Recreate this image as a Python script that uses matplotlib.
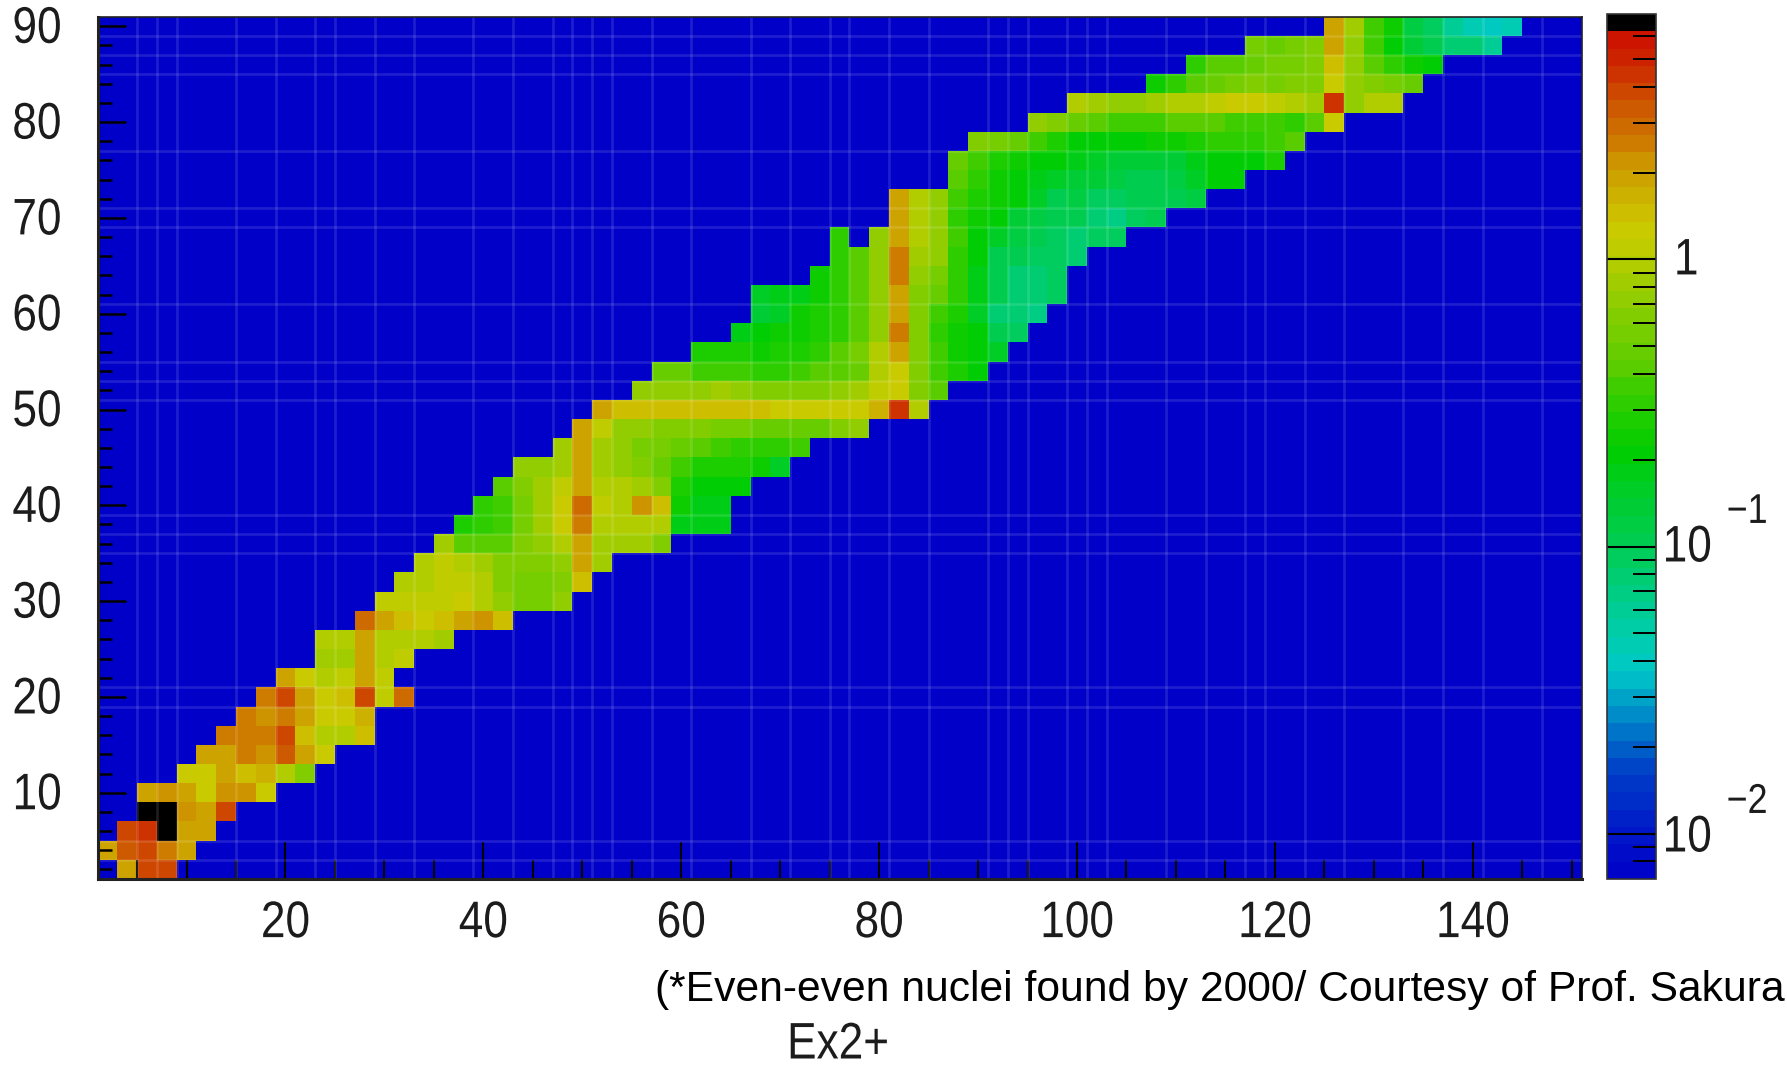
import numpy as np
import matplotlib
matplotlib.use("Agg")
import matplotlib.pyplot as plt
from matplotlib.colors import LinearSegmentedColormap, ListedColormap, LogNorm
from matplotlib.patheffects import AbstractPathEffect
from matplotlib.transforms import Affine2D

plt.rcParams['font.family'] = ['Liberation Sans', 'DejaVu Sans']

# Ex2+ values (MeV) per proton-number row: (first neutron number, values every 2 neutrons)
z2 = (4, [2.0, 3.8, 3.6])
z4 = (2, [2.0, 3.3, 3.6, 2.6, 1.9])
z6 = (4, [3.8, 4.6, 7.0, 2.0, 1.9])
z8 = (6, [7.0, 7.0, 2.3, 1.9, 3.8])
z10 = (6, [2.0, 2.2, 2.0, 1.25, 2.2, 2.2, 1.35])
z12 = (10, [1.3, 1.3, 1.9, 1.5, 1.6, .95, .62])
z14 = (12, [1.9, 1.9, 2.6, 2.2, 3.4, 1.8, 1.3])
z16 = (14, [2.6, 2.6, 2.5, 3.6, 1.45, .95, .92, 1.4])
z18 = (16, [2.6, 2.3, 2.5, 1.8, 1.35, 1.2, 1.7])
z20 = (18, [2.6, 3.9, 1.9, 1.3, 1.45, 3.9, 1.1, 2.9])
z22 = (20, [1.8, 1.3, .98, 1.1, 1.9, 1.05])
z24 = (24, [.82, .8, 1.9, .98, 1.1])
z26 = (24, [.95, .92, 1.9, .98, .95, .92, .88])
z28 = (28, [2.9, 1.9, 1.55, 1.3, 1.45, 1.8, 2.3, 1.4])
z30 = (30, [1.05, 1.05, 1.05, 1.08, 1.25, .9, .75, .55, .55, .72])
z32 = (32, [.9, 1.0, 1.03, 1.03, .95, .62, .55, .58, .65, 1.4])
z34 = (34, [.9, 1.03, .98, .8, .62, .64, .66, .68, 1.85, .78])
z36 = (36, [.78, .42, .42, .42, .65, .7, .9, 1.85, .85, .8, .78, .66])
z38 = (38, [.27, .3, .36, .55, .8, 1.25, 2.4, .98, .95, .95, .92, .17, .17, .17])
z40 = (40, [.3, .38, .58, .8, 1.25, 2.9, 1.12, 1.0, 2.2, 1.4, .23, .17, .17])
z42 = (42, [.42, .6, .78, 1.05, 2.0, .95, .9, .85, .6, .27, .22, .2, .22])
z44 = (44, [.68, .74, .88, 1.95, .85, .72, .62, .5, .38, .28, .27, .26, .23, .16])
z46 = (48, [.88, 1.95, .85, .68, .58, .52, .46, .4, .34, .3, .3, .3, .34])
z48 = (50, [1.9, 1.05, .72, .68, .64, .62, .62, .58, .52, .5, .47, .45, .5, .62, .68])
z50 = (52, [1.9, 1.55, 1.4, 1.4, 1.4, 1.4, 1.45, 1.45, 1.45, 1.25, 1.2, 1.25, 1.2, 1.2, 1.6, 4.4, .95])
z52 = (56, [.72, .74, .72, .75, .82, .72, .66, .66, .64, .62, .72, .88, 1.15, 1.35, .62, .42])
z54 = (58, [.46, .46, .38, .34, .34, .32, .32, .34, .4, .44, .5, .9, 1.3, .62, .36, .27, .22])
z56 = (62, [.27, .27, .27, .25, .27, .29, .33, .41, .52, .92, 1.8, .6, .37, .24, .22, .15])
z58 = (66, [.18, .2, .23, .24, .28, .33, .42, .72, 2.4, .62, .32, .24, .2, .1, .085])
z60 = (68, [.13, .15, .23, .27, .33, .42, .7, 1.9, .6, .38, .26, .16, .075, .08, .065])
z62 = (68, [.16, .17, .19, .24, .3, .42, .7, 1.9, .65, .46, .3, .17, .11, .08, .08, .085])
z64 = (74, [.23, .3, .42, .75, 2.5, .7, .55, .3, .17, .1, .08, .08, .085])
z66 = (76, [.32, .42, .7, 2.4, .85, .72, .33, .2, .11, .1, .09, .085, .08])
z68 = (76, [.32, 0, .7, 1.85, .95, .7, .36, .22, .15, .12, .1, .09, .075, .09, .09])
z70 = (82, [1.85, .95, .7, .3, .23, .2, .14, .12, .11, .1, .075, .07, .09, .1])
z72 = (82, [1.8, .95, .7, .36, .28, .23, .2, .15, .11, .115, .09, .085, .1, .105, .11, .12])
z74 = (88, [.42, .3, .24, .22, .19, .15, .14, .13, .12, .1, .1, .12, .15, .2, .22])
z76 = (88, [.5, .36, .28, .25, .21, .2, .17, .15, .14, .13, .13, .14, .18, .22, .21, .22, .29])
z78 = (90, [.62, .55, .5, .38, .26, .22, .21, .2, .21, .23, .25, .27, .3, .3, .31, .35, .42])
z80 = (96, [.72, .65, .46, .4, .38, .38, .38, .42, .42, .4, .38, .36, .34, .33, .41, 1.35])
z82 = (100, [.95, .88, .75, .72, .82, .92, 1.0, 1.12, 1.25, 1.2, 1.12, .98, .85, 4.6, .72, .9, .95])
z84 = (108, [.23, .3, .4, .5, .58, .6, .58, .6, .65, 1.25, .72, .6, .55, .5])
z86 = (112, [.32, .42, .44, .5, .55, .58, .6, 1.4, .72, .42, .3, .25, .22])
z88 = (118, [.52, .46, .52, .62, 1.85, .68, .34, .2, .13, .1, .075, .08, .06])
z90 = (126, [2.0, .8, .36, .23, .12, .09, .06, .045, .042, .045])

rows = [z2, z4, z6, z8, z10, z12, z14, z16, z18, z20, z22, z24, z26, z28, z30,
        z32, z34, z36, z38, z40, z42, z44, z46, z48, z50, z52, z54, z56, z58,
        z60, z62, z64, z66, z68, z70, z72, z74, z76, z78, z80, z82, z84, z86, z88, z90]

x_edges = np.arange(1, 152, 2)
y_edges = np.arange(1, 92, 2)

grid = np.full((45, 75), np.nan)
for j, (n0, vals) in enumerate(rows):
    for k, v in enumerate(vals):
        if v > 0:
            grid[j, (n0 - 2) // 2 + k] = v

# faint lines over the map (positions)
v_lines = [5, 7, 9, 15, 19, 23, 25, 29, 33, 39, 43, 47, 49, 51, 53, 57, 61, 67, 71, 75, 77, 81, 85,
           91, 93, 95, 99, 101, 103, 109, 113, 117, 119, 123, 127, 133, 137, 141, 147]
h_lines = [3, 5, 19, 21, 35, 37, 39, 51, 53, 55, 61, 69, 71, 77, 85, 87, 89]

x_major = [20, 40, 60, 80, 100, 120, 140]
x_minor = [5, 10, 15, 25, 30, 35, 45, 50, 55, 65, 70, 75, 85, 90, 95, 105, 110, 115, 125, 130, 135, 145, 150]
y_major = [10, 20, 30, 40, 50, 60, 70, 80, 90]
y_minor = [v for v in range(2, 91, 2) if v % 10]
cb_major = [0.01, 0.1, 1]
cb_minor = [.008, .009, .02, .03, .04, .05, .06, .07, .08, .09,
            .2, .3, .4, .5, .6, .7, .8, .9, 2, 3, 4, 5, 6]

anchors = [(0, (0, 0, 200)), (.047, (0, 20, 200)), (.12, (0, 60, 200)), (.16, (0, 100, 200)),
           (.2, (0, 150, 200)), (.246, (0, 200, 200)), (.287, (0, 205, 170)), (.34, (0, 205, 130)),
           (.386, (0, 205, 85)), (.445, (0, 205, 50)), (.505, (0, 205, 0)), (.544, (30, 205, 0)),
           (.578, (60, 205, 0)), (.605, (90, 205, 0)), (.638, (115, 205, 0)), (.665, (130, 205, 0)),
           (.693, (150, 205, 0)), (.723, (175, 205, 0)), (.75, (195, 205, 0)), (.775, (205, 200, 0)),
           (.81, (205, 175, 0)), (.845, (205, 150, 0)), (.875, (205, 120, 0)), (.92, (205, 80, 0)),
           (.95, (205, 50, 0)), (1, (205, 15, 0))]
base = LinearSegmentedColormap.from_list(
    'root', [(t, tuple(c / 255 for c in col)) for t, col in anchors])
cmap = ListedColormap([base((i + .5) / 49) for i in range(49)] + [(0, 0, 0)])
cmap.set_bad((0, 0, 200 / 255))
norm = LogNorm(vmin=0.00695, vmax=7.17)


class Squeeze(AbstractPathEffect):
    """Narrow glyphs horizontally around their own centre; dy nudges them in pixels."""
    def __init__(self, sx, dy=0):
        super().__init__()
        self.sx = sx
        self.dy = dy

    def draw_path(self, renderer, gc, tpath, affine, rgbFace=None):
        e = tpath.get_extents()
        c = (e.x0 + e.x1) / 2
        renderer.draw_path(gc, tpath,
                           Affine2D().translate(-c, 0).scale(self.sx, 1).translate(c, 0) + affine
                           + Affine2D().translate(0, self.dy),
                           rgbFace)


W, H = 1787, 1065
fig = plt.figure(figsize=(W / 100 + 1e-3, H / 100 + 1e-3), dpi=100, facecolor='white')


def px_axes(l, t, r, b):
    return fig.add_axes([l / W, 1 - b / H, (r - l) / W, (b - t) / H])


def label(x, y, s, size, sx=.86, dy=0, color='#1c1c1c', **kw):
    t = fig.text(x / W, 1 - y / H, s, fontsize=size, color=color, ha=kw.pop('ha', 'center'),
                 va=kw.pop('va', 'center'), **kw)
    if sx != 1 or dy:
        t.set_path_effects([Squeeze(sx, dy)])
    return t


ax = px_axes(97.5, 16.8, 1581.5, 879)
mesh = ax.pcolormesh(x_edges, y_edges, np.ma.masked_invalid(grid), cmap=cmap, norm=norm)
for v in v_lines:
    ax.axvline(v, color='white', alpha=.12, lw=1.9, zorder=2)
for h in h_lines:
    ax.axhline(h, color='white', alpha=.12, lw=1.9, zorder=2)
ax.set_xlim(1, 151)
ax.set_ylim(1, 91)
ax.set_xticks(x_major, [str(v) for v in x_major])
ax.set_xticks(x_minor, minor=True)
ax.set_yticks(y_major, [str(v) for v in y_major])
ax.set_yticks(y_minor, minor=True)
ax.tick_params(axis='x', which='major', direction='in', length=27, width=1.5, pad=14.5, labelsize=37,
               labelcolor='#1c1c1c')
ax.tick_params(axis='x', which='minor', direction='in', length=14, width=1.5)
ax.tick_params(axis='y', which='major', direction='in', length=20, width=1.8, pad=23, labelsize=37,
               labelcolor='#1c1c1c')
ax.tick_params(axis='y', which='minor', direction='in', length=10, width=1.8)
for lab in ax.get_xticklabels():
    lab.set_path_effects([Squeeze(.86)])
for lab in ax.get_yticklabels():
    lab.set_path_effects([Squeeze(.86, dy=2.5)])
for name, sp in ax.spines.items():
    sp.set_linewidth(2.2 if name in ('left', 'bottom') else 1.2)
    sp.set_color('#222222')

cax = px_axes(1607, 14, 1656, 879)
cbar = fig.colorbar(mesh, cax=cax)
cbar.set_ticks(cb_major)
cbar.ax.yaxis.set_ticks(cb_minor, minor=True)
cax.yaxis.set_ticklabels([])
cax.yaxis.set_ticklabels([], minor=True)
cax.tick_params(axis='y', which='major', direction='in', length=35, width=1.5, right=True, left=False)
cax.tick_params(axis='y', which='minor', direction='in', length=16.5, width=1.4, right=True, left=False)
cbar.outline.set_linewidth(1.2)
cbar.outline.set_edgecolor('#333333')

label(1686, 261, '1', 37)
label(1687, 548, '10', 37)
label(1687, 838, '10', 37)
label(1747, 512, '\u22121', 30)
label(1747, 802, '\u22122', 30)

label(838, 1034, 'Ex2+', 37, dy=-11)
label(1219.5, 1001, '(*Even-even nuclei found by 2000/ Courtesy of Prof. Sakura', 30.7, sx=1,
      color='black', va='baseline')

fig.savefig('out.png', dpi=100, facecolor='white')
